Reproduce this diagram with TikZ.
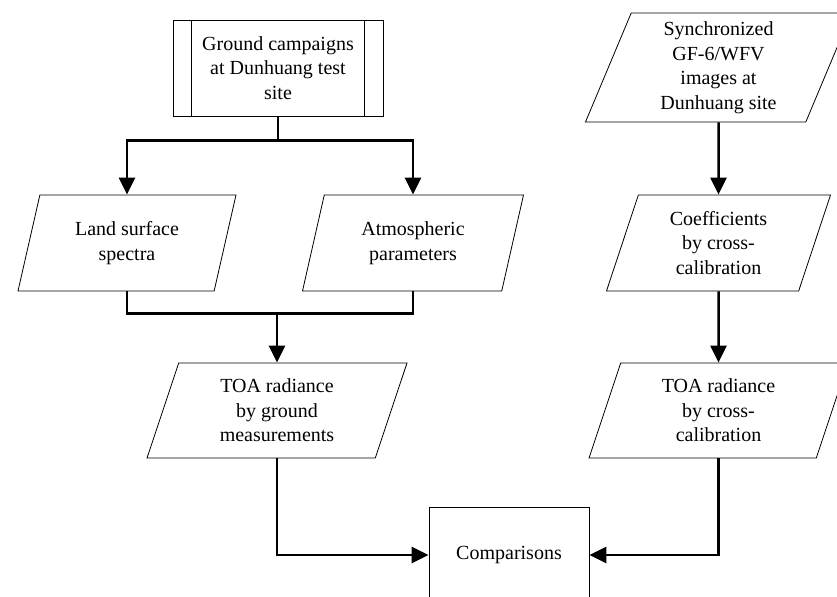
\documentclass[tikz,border=0pt]{standalone}
\usepackage{fontspec}
\setmainfont{Liberation Serif}
\usetikzlibrary{shapes.geometric, arrows.meta, positioning, calc}

\tikzset{
    para/.style={draw, line width=0.8bp, trapezium, trapezium left angle=64, trapezium right angle=116,
        trapezium stretches body=true, align=center, inner sep=1bp},
    procbox/.style={draw, line width=0.8bp, rectangle, align=center, inner sep=1bp},
    link/.style={line width=2.5bp},
    arr/.style={line width=2.5bp, -{Triangle[length=17bp, width=16bp]}}
}

\begin{document}
\begin{tikzpicture}[x=1bp, y=-1bp, font=\fontsize{20bp}{24.5bp}\selectfont]
    \useasboundingbox (0,0) rectangle (837,597);

    % left branch
    \node[procbox, minimum width=210bp, minimum height=96bp] (ground) at (278,68) {Ground campaigns\\at Dunhuang test\\site};
    \draw[line width=0.8bp] ([xshift=19bp]ground.north west) -- ([xshift=19bp]ground.south west);
    \draw[line width=0.8bp] ([xshift=-19bp]ground.north east) -- ([xshift=-19bp]ground.south east);

    \node[para, minimum width=218bp, minimum height=96bp] (land) at (127,243) {Land surface\\spectra};
    \node[para, minimum width=221bp, minimum height=96bp] (atmos) at (413,243) {Atmospheric\\parameters};
    \node[para, minimum width=260bp, minimum height=95bp] (toaground) at (277,410.5) {TOA radiance\\by ground\\measurements};

    % right branch
    \node[para, minimum width=266bp, minimum height=109bp] (sync) at (718.5,67.5) {Synchronized\\GF-6/WFV\\images at\\Dunhuang site};
    \node[para, minimum width=224bp, minimum height=96bp] (coeff) at (718.5,243) {Coefficients\\by cross-\\calibration};
    \node[para, minimum width=259bp, minimum height=95bp] (toacross) at (718.5,410.5) {TOA radiance\\by cross-\\calibration};

    \node[procbox, minimum width=160bp, minimum height=96bp] (compare) at (509,555) {Comparisons};

    % connectors
    \coordinate (split) at ($(ground.south)+(0,24)$);
    \draw[link] (ground.south) -- (split);
    \draw[arr] (split) -| (land.north);
    \draw[arr] (split) -| (atmos.north);

    \coordinate (merge) at ($(toaground.north)+(0,-49)$);
    \draw[link] (land.south) |- (merge);
    \draw[link] (atmos.south) |- (merge);
    \draw[arr] (merge) -- (toaground.north);

    \draw[arr] (sync.south) -- (coeff.north);
    \draw[arr] (coeff.south) -- (toacross.north);

    \draw[arr] (toaground.south) |- (compare.west);
    \draw[arr] (toacross.south) |- (compare.east);
\end{tikzpicture}
\end{document}
